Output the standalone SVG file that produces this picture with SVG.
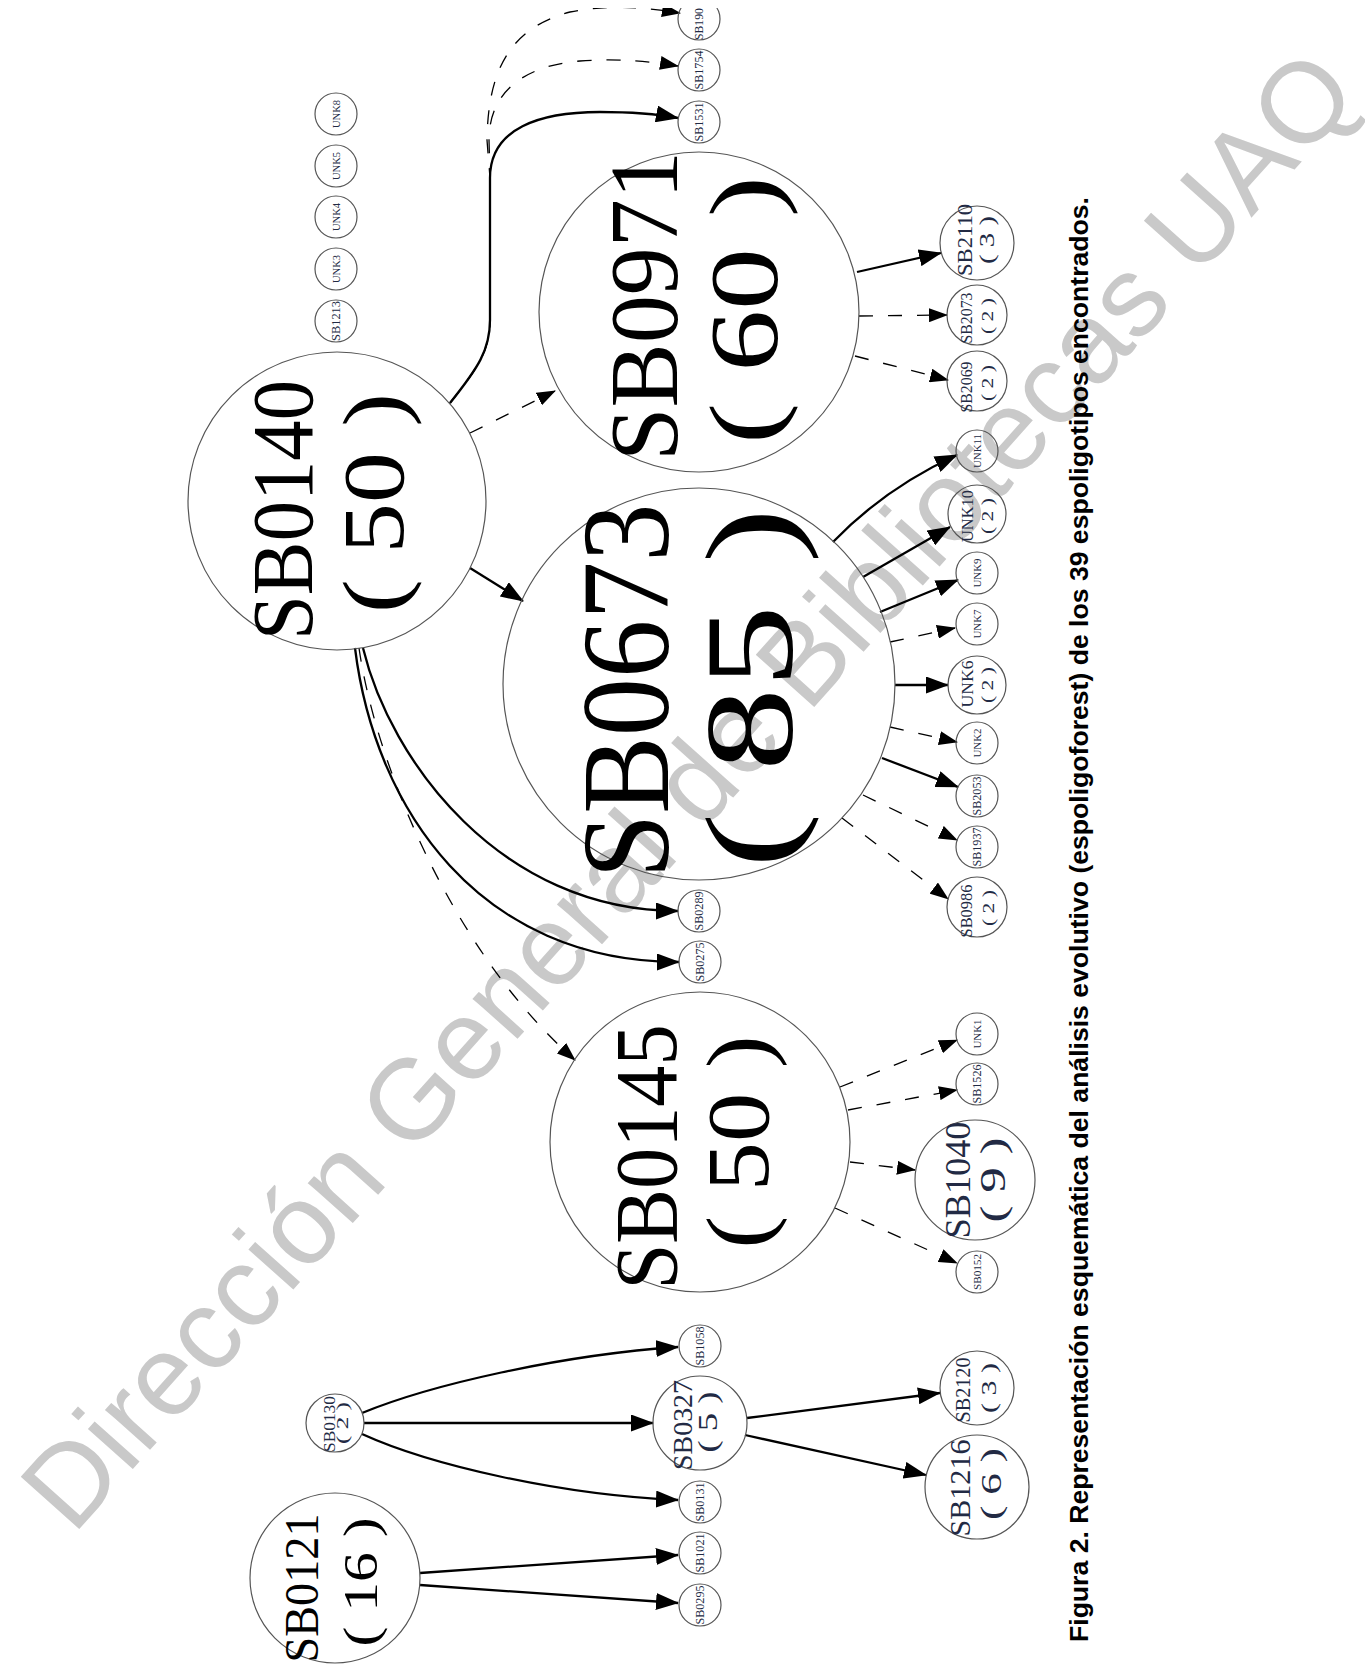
<svg xmlns="http://www.w3.org/2000/svg" width="1365" height="1667" viewBox="0 0 1365 1667">
<style>
.n circle{fill:none;stroke:#555;stroke-width:1.2}
.t{font-family:"Liberation Serif","Times New Roman",serif;fill:#000;text-anchor:middle}
.s{fill:#222a44}
.e{fill:none;stroke:#000;stroke-width:2.3}
.d{fill:none;stroke:#000;stroke-width:1.3;stroke-dasharray:14 15}
.es{marker-end:url(#aS)}
.ed{marker-end:url(#aD)}
</style>
<defs>
<marker id="aS" markerUnits="userSpaceOnUse" markerWidth="23" markerHeight="17" refX="22" refY="8.5" orient="auto" viewBox="0 0 23 17"><path d="M0,0 L23,8.5 L0,17 z" fill="#000"/></marker>
<marker id="aD" markerUnits="userSpaceOnUse" markerWidth="19" markerHeight="14" refX="18" refY="7" orient="auto" viewBox="0 0 19 14"><path d="M0,0 L19,7 L0,14 z" fill="#000"/></marker>
</defs>
<rect width="1365" height="1667" fill="#fff"/>
<text id="watermark" x="73" y="1536" transform="rotate(-48.2 73 1536)" font-family="Liberation Sans, Arial, sans-serif" font-size="114" fill="#c9c9c9">Dirección General de Bibliotecas UAQ</text>
<g id="connectors">
<path class="e es" d="M450,403 C478,368 490,350 490,320 L490,178 C490,128 540,112 600,112 C640,112 662,115 678,118"/>
<path class="d ed" d="M450,403 C478,368 490,350 490,320 L490,178 L489,140 C489,95 520,66 580,61 C620,58 655,62 678,66"/>
<path class="d ed" d="M450,403 C478,368 490,350 490,320 L490,178 L487,140 C488,70 510,28 570,12 C610,4 650,8 680,13"/>
<path class="d ed" d="M470,433 L555,391"/>
<path class="e es" d="M470,568 L523,601"/>
<path class="e es" d="M363,648 C390,760 500,911 678,911"/>
<path class="e es" d="M355,648 C375,810 480,962 679,962"/>
<path class="d ed" d="M359,648 C375,760 450,950 575,1060"/>
<path class="e es" d="M857,272 L941,253"/>
<path class="d ed" d="M859,316 L947,315"/>
<path class="d ed" d="M855,356 L948,380"/>
<path class="e es" d="M833,542 Q885,488 957,455"/>
<path class="e es" d="M863,577 L950,527"/>
<path class="e es" d="M880,612 L958,580"/>
<path class="d ed" d="M890,642 L955,628"/>
<path class="e es" d="M895,685 L948,685"/>
<path class="d ed" d="M890,727 L957,742"/>
<path class="e es" d="M882,758 L958,787"/>
<path class="d ed" d="M863,795 L957,840"/>
<path class="d ed" d="M842,818 L948,899"/>
<path class="d ed" d="M840,1087 L957,1040"/>
<path class="d ed" d="M848,1110 L957,1090"/>
<path class="d ed" d="M850,1162 L915,1170"/>
<path class="d ed" d="M835,1208 L957,1263"/>
<path class="e es" d="M747,1418 L940,1393"/>
<path class="e es" d="M745,1435 L926,1475"/>
<path class="e es" d="M362,1413 C430,1385 560,1355 678,1347"/>
<path class="e es" d="M364,1423 L653,1423"/>
<path class="e es" d="M362,1434 C430,1465 560,1495 678,1500"/>
<path class="e es" d="M420,1573 L678,1555"/>
<path class="e es" d="M420,1585 L678,1603"/>
</g>
<g id="SB0140" class="n"><circle cx="337" cy="501" r="149"/><text class="t" transform="translate(312,510) rotate(-90)" font-size="86" textLength="260" lengthAdjust="spacingAndGlyphs">SB0140</text><text class="t" transform="translate(403,503) rotate(-90)" font-size="86" textLength="220" lengthAdjust="spacingAndGlyphs">( 50 )</text></g>
<g id="SB0971" class="n"><circle cx="699" cy="312" r="160"/><text class="t" transform="translate(677,306) rotate(-90)" font-size="97" textLength="310" lengthAdjust="spacingAndGlyphs">SB0971</text><text class="t" transform="translate(777,310) rotate(-90)" font-size="97" textLength="268" lengthAdjust="spacingAndGlyphs">( 60 )</text></g>
<g id="SB0673" class="n"><circle cx="699" cy="684" r="196"/><text class="t" transform="translate(668,691) rotate(-90)" font-size="125" textLength="375" lengthAdjust="spacingAndGlyphs">SB0673</text><text class="t" transform="translate(792,688) rotate(-90)" font-size="125" textLength="360" lengthAdjust="spacingAndGlyphs">( 85 )</text></g>
<g id="SB0145" class="n"><circle cx="700" cy="1142" r="150"/><text class="t" transform="translate(676,1157) rotate(-90)" font-size="88" textLength="265" lengthAdjust="spacingAndGlyphs">SB0145</text><text class="t" transform="translate(768,1142) rotate(-90)" font-size="88" textLength="213" lengthAdjust="spacingAndGlyphs">( 50 )</text></g>
<g id="SB0121" class="n"><circle cx="335" cy="1578" r="85"/><text class="t" transform="translate(318,1588) rotate(-90)" font-size="48" textLength="149" lengthAdjust="spacingAndGlyphs">SB0121</text><text class="t" transform="translate(377,1582) rotate(-90)" font-size="48" textLength="129" lengthAdjust="spacingAndGlyphs">( 16 )</text></g>
<g id="SB0130" class="n"><circle cx="335" cy="1423" r="29"/><text class="t s" transform="translate(335,1424) rotate(-90)" font-size="17" textLength="56" lengthAdjust="spacingAndGlyphs">SB0130</text><text class="t s" transform="translate(348,1423) rotate(-90)" font-size="16" textLength="42" lengthAdjust="spacingAndGlyphs">( 2 )</text></g>
<g id="SB0327" class="n"><circle cx="700" cy="1423" r="47"/><text class="t s" transform="translate(692,1425) rotate(-90)" font-size="27" textLength="90" lengthAdjust="spacingAndGlyphs">SB0327</text><text class="t s" transform="translate(717,1422) rotate(-90)" font-size="27" textLength="61" lengthAdjust="spacingAndGlyphs">( 5 )</text></g>
<g id="SB1040" class="n"><circle cx="975" cy="1180" r="60"/><text class="t s" transform="translate(970,1180) rotate(-90)" font-size="36" textLength="117" lengthAdjust="spacingAndGlyphs">SB1040</text><text class="t s" transform="translate(1005,1180) rotate(-90)" font-size="36" textLength="85" lengthAdjust="spacingAndGlyphs">( 9 )</text></g>
<g id="SB1216" class="n"><circle cx="977" cy="1487" r="52"/><text class="t s" transform="translate(970,1488) rotate(-90)" font-size="30" textLength="97" lengthAdjust="spacingAndGlyphs">SB1216</text><text class="t s" transform="translate(1001,1484) rotate(-90)" font-size="30" textLength="72" lengthAdjust="spacingAndGlyphs">( 6 )</text></g>
<g id="SB2120" class="n"><circle cx="977" cy="1388" r="37"/><text class="t s" transform="translate(970,1390) rotate(-90)" font-size="21" textLength="65" lengthAdjust="spacingAndGlyphs">SB2120</text><text class="t s" transform="translate(996,1388) rotate(-90)" font-size="21" textLength="50" lengthAdjust="spacingAndGlyphs">( 3 )</text></g>
<g id="SB2110" class="n"><circle cx="977" cy="243" r="37"/><text class="t s" transform="translate(972,240) rotate(-90)" font-size="21" textLength="72" lengthAdjust="spacingAndGlyphs">SB2110</text><text class="t s" transform="translate(994,240) rotate(-90)" font-size="21" textLength="48" lengthAdjust="spacingAndGlyphs">( 3 )</text></g>
<g id="SB2073" class="n"><circle cx="977" cy="315" r="30"/><text class="t s" transform="translate(972,318) rotate(-90)" font-size="16" textLength="51" lengthAdjust="spacingAndGlyphs">SB2073</text><text class="t s" transform="translate(993,316) rotate(-90)" font-size="16" textLength="36" lengthAdjust="spacingAndGlyphs">( 2 )</text></g>
<g id="SB2069" class="n"><circle cx="977" cy="381" r="30"/><text class="t s" transform="translate(972,387) rotate(-90)" font-size="16" textLength="51" lengthAdjust="spacingAndGlyphs">SB2069</text><text class="t s" transform="translate(993,383) rotate(-90)" font-size="16" textLength="36" lengthAdjust="spacingAndGlyphs">( 2 )</text></g>
<g id="UNK10" class="n"><circle cx="977" cy="514" r="29"/><text class="t s" transform="translate(973,516) rotate(-90)" font-size="16" textLength="52" lengthAdjust="spacingAndGlyphs">UNK10</text><text class="t s" transform="translate(993,516) rotate(-90)" font-size="16" textLength="36" lengthAdjust="spacingAndGlyphs">( 2 )</text></g>
<g id="UNK6" class="n"><circle cx="977" cy="685" r="29"/><text class="t s" transform="translate(973,684) rotate(-90)" font-size="17" textLength="47" lengthAdjust="spacingAndGlyphs">UNK6</text><text class="t s" transform="translate(993,685) rotate(-90)" font-size="16" textLength="36" lengthAdjust="spacingAndGlyphs">( 2 )</text></g>
<g id="SB0986" class="n"><circle cx="977" cy="907" r="30"/><text class="t s" transform="translate(972,911) rotate(-90)" font-size="16" textLength="53" lengthAdjust="spacingAndGlyphs">SB0986</text><text class="t s" transform="translate(994,908) rotate(-90)" font-size="16" textLength="36" lengthAdjust="spacingAndGlyphs">( 2 )</text></g>
<g id="UNK11" class="n"><circle cx="977" cy="451" r="21"/><text class="t s" transform="translate(981,451) rotate(-90)" font-size="11" textLength="34" lengthAdjust="spacingAndGlyphs">UNK11</text></g>
<g id="UNK9" class="n"><circle cx="977" cy="573" r="21"/><text class="t s" transform="translate(981,573) rotate(-90)" font-size="11" textLength="29" lengthAdjust="spacingAndGlyphs">UNK9</text></g>
<g id="UNK7" class="n"><circle cx="977" cy="624" r="21"/><text class="t s" transform="translate(981,624) rotate(-90)" font-size="11" textLength="29" lengthAdjust="spacingAndGlyphs">UNK7</text></g>
<g id="UNK2" class="n"><circle cx="977" cy="743" r="21"/><text class="t s" transform="translate(981,743) rotate(-90)" font-size="11" textLength="29" lengthAdjust="spacingAndGlyphs">UNK2</text></g>
<g id="SB2053" class="n"><circle cx="977" cy="796" r="21"/><text class="t s" transform="translate(981,796) rotate(-90)" font-size="12" textLength="39" lengthAdjust="spacingAndGlyphs">SB2053</text></g>
<g id="SB1937" class="n"><circle cx="977" cy="847" r="21"/><text class="t s" transform="translate(981,847) rotate(-90)" font-size="12" textLength="39" lengthAdjust="spacingAndGlyphs">SB1937</text></g>
<g id="UNK1" class="n"><circle cx="977" cy="1034" r="21"/><text class="t s" transform="translate(981,1034) rotate(-90)" font-size="11" textLength="29" lengthAdjust="spacingAndGlyphs">UNK1</text></g>
<g id="SB1526" class="n"><circle cx="977" cy="1084" r="21"/><text class="t s" transform="translate(981,1084) rotate(-90)" font-size="12" textLength="39" lengthAdjust="spacingAndGlyphs">SB1526</text></g>
<g id="SB0152" class="n"><circle cx="977" cy="1272" r="21"/><text class="t s" transform="translate(981,1272) rotate(-90)" font-size="11" textLength="36" lengthAdjust="spacingAndGlyphs">SB0152</text></g>
<g id="SB0289" class="n"><circle cx="699" cy="911" r="21"/><text class="t s" transform="translate(703,911) rotate(-90)" font-size="12" textLength="39" lengthAdjust="spacingAndGlyphs">SB0289</text></g>
<g id="SB0275" class="n"><circle cx="700" cy="962" r="21"/><text class="t s" transform="translate(704,962) rotate(-90)" font-size="12" textLength="39" lengthAdjust="spacingAndGlyphs">SB0275</text></g>
<g id="SB1058" class="n"><circle cx="700" cy="1346" r="21"/><text class="t s" transform="translate(704,1346) rotate(-90)" font-size="12" textLength="39" lengthAdjust="spacingAndGlyphs">SB1058</text></g>
<g id="SB0131" class="n"><circle cx="700" cy="1502" r="21"/><text class="t s" transform="translate(704,1502) rotate(-90)" font-size="12" textLength="39" lengthAdjust="spacingAndGlyphs">SB0131</text></g>
<g id="SB1021" class="n"><circle cx="700" cy="1553" r="21"/><text class="t s" transform="translate(704,1553) rotate(-90)" font-size="12" textLength="39" lengthAdjust="spacingAndGlyphs">SB1021</text></g>
<g id="SB0295" class="n"><circle cx="700" cy="1605" r="21"/><text class="t s" transform="translate(704,1605) rotate(-90)" font-size="12" textLength="39" lengthAdjust="spacingAndGlyphs">SB0295</text></g>
<g id="SB1531" class="n"><circle cx="699" cy="122" r="21"/><text class="t s" transform="translate(703,122) rotate(-90)" font-size="12" textLength="39" lengthAdjust="spacingAndGlyphs">SB1531</text></g>
<g id="SB1754" class="n"><circle cx="699" cy="70" r="21"/><text class="t s" transform="translate(703,70) rotate(-90)" font-size="12" textLength="39" lengthAdjust="spacingAndGlyphs">SB1754</text></g>
<g id="SB190" class="n"><circle cx="699" cy="19" r="21"/><text class="t s" transform="translate(703,40) rotate(-90)" font-size="12" textLength="32" lengthAdjust="spacingAndGlyphs" style="text-anchor:start">SB190</text></g>
<g id="UNK8" class="n"><circle cx="336" cy="114" r="21"/><text class="t s" transform="translate(340,114) rotate(-90)" font-size="11" textLength="28" lengthAdjust="spacingAndGlyphs">UNK8</text></g>
<g id="UNK5" class="n"><circle cx="336" cy="166" r="21"/><text class="t s" transform="translate(340,166) rotate(-90)" font-size="11" textLength="28" lengthAdjust="spacingAndGlyphs">UNK5</text></g>
<g id="UNK4" class="n"><circle cx="336" cy="217" r="21"/><text class="t s" transform="translate(340,217) rotate(-90)" font-size="11" textLength="28" lengthAdjust="spacingAndGlyphs">UNK4</text></g>
<g id="UNK3" class="n"><circle cx="336" cy="269" r="21"/><text class="t s" transform="translate(340,269) rotate(-90)" font-size="11" textLength="28" lengthAdjust="spacingAndGlyphs">UNK3</text></g>
<g id="SB1213" class="n"><circle cx="336" cy="321" r="21"/><text class="t s" transform="translate(340,321) rotate(-90)" font-size="12" textLength="40" lengthAdjust="spacingAndGlyphs">SB1213</text></g>
<rect x="0" y="0" width="1365" height="8" fill="#fff"/>
<text id="caption" transform="translate(1088,1642) rotate(-90)" font-family="Liberation Sans, Arial, sans-serif" font-weight="bold" font-size="26.5" textLength="1445" lengthAdjust="spacingAndGlyphs" fill="#000">Figura 2. Representación esquemática del análisis evolutivo (espoligoforest) de los 39 espoligotipos encontrados.</text>
</svg>
